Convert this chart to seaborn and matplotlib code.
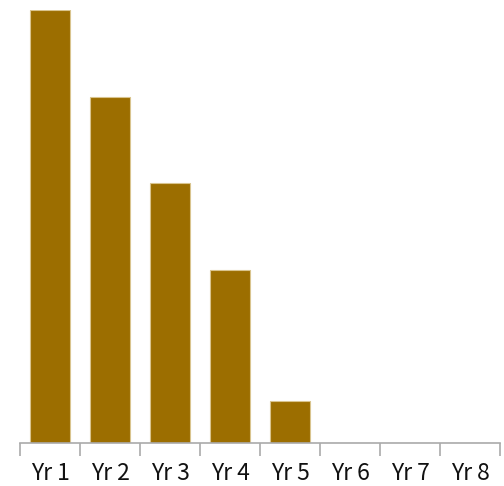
import matplotlib
matplotlib.use("Agg")
import matplotlib.pyplot as plt
import seaborn as sns
import pandas as pd
import numpy as np
from matplotlib.ticker import FixedLocator

categories = ["Yr 1", "Yr 2", "Yr 3", "Yr 4", "Yr 5", "Yr 6", "Yr 7", "Yr 8"]
values = [100, 80, 60, 40, 9.7, 0, 0, 0]

df = pd.DataFrame({"cat": categories, "val": values})

sns.set_theme(style="white")
plt.rcParams['font.family'] = ['Noto Sans CJK JP', 'DejaVu Sans']

fig = plt.figure(figsize=(5.04, 4.86), dpi=100)
W, H = 504, 486
ax = fig.add_axes([20 / W, (H - 443) / H, 480 / W, (443 - 10) / H])

sns.barplot(data=df, x="cat", y="val", ax=ax, color="#9C6E00", saturation=1,
            width=0.667, edgecolor="#D9C48E", linewidth=0.8)

ax.set_xlim(-0.5, len(categories) - 0.5)
ax.set_ylim(0, max(values))
ax.set_xlabel("")
ax.set_ylabel("")
ax.set_yticks([])
for s in ["top", "right", "left"]:
    ax.spines[s].set_visible(False)
ax.spines["bottom"].set_color("#AAAAAA")
ax.spines["bottom"].set_linewidth(1.2)

ax.xaxis.set_minor_locator(FixedLocator(np.arange(-0.5, len(categories), 1.0)))
ax.tick_params(axis="x", which="minor", length=9, width=1.2, color="#AAAAAA", direction="out", bottom=True)
ax.tick_params(axis="x", which="major", length=0, pad=14, labelsize=16.5, labelcolor="#111111")

fig.savefig("out.png", dpi=100)
